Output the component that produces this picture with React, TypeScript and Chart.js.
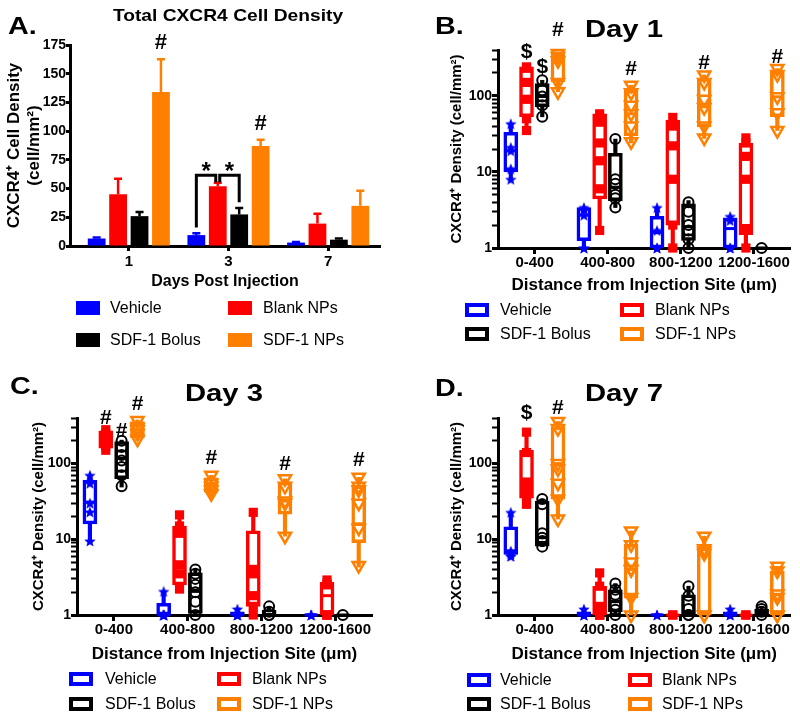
import React, { useEffect, useRef } from 'react';
import { Chart, registerables } from 'chart.js';

Chart.register(...registerables);

const FONT = "'Liberation Sans', Arial, Helvetica, sans-serif";
Chart.defaults.font.family = FONT;
Chart.defaults.color = '#000';

const GROUPS = ['Vehicle', 'Blank NPs', 'SDF-1 Bolus', 'SDF-1 NPs'];
const COLORS = ['#0000ff', '#ff0000', '#000000', '#ff8000'];

// ---------- Panel A : total density (mean, SEM) ----------
const DAYS = ['1', '3', '7'];
const A_VEHICLE = [6.5, 9.5, 3.0];
const A_VEHICLE_SEM = [1.0, 1.5, 0.4];
const A_BLANK = [45, 52, 19.5];
const A_BLANK_SEM = [13.5, 3.0, 8.5];
const A_BOLUS = [26, 27.5, 5.5];
const A_BOLUS_SEM = [3.5, 5.5, 1.0];
const A_SDF = [134, 87, 35];
const A_SDF_SEM = [28.5, 5.5, 13];
const A_TICKS = [0, 25, 50, 75, 100, 125, 150, 175];
const A_MARKS = [
  { s: '#', g: 3, c: 0, y: 177 },
  { s: '#', g: 3, c: 1, y: 106 },
];
// brackets: [groupA, groupB, category, top value, left foot value, right foot value]
const A_BRACKETS = [
  [0, 1, 1, 61.7, 16, 55.4],
  [1, 2, 1, 61.7, 55.4, 38],
];
const A_STAR_Y = 64;

// ---------- Panels B-D : distance boxes ----------
const DIST = ['0-400', '400-800', '800-1200', '1200-1600'];
const LOG_MAJOR = [1, 10, 100];
const LOG_TICKS = [1, 2, 3, 4, 5, 6, 7, 8, 9, 10, 20, 30, 40, 50, 60, 70, 80, 90, 100, 200, 300, 400];

// box stats: [min, q1, median, q3, max] per distance
const D1_VEHICLE_BOX = [[8, 10, 19, 33, 43], [1, 1.25, 2.7, 3.4, 3.4], [1, 1, 1.6, 2.6, 3.4], [1, 1, 1.8, 2.5, 2.6]];
const D1_BLANK_BOX = [[35, 53, 88, 240, 245], [1.7, 4.4, 15, 58, 58], [1, 2, 8.6, 48, 52], [1, 1.5, 8, 24, 28]];
const D1_BOLUS_BOX = [[53, 72, 98, 145, 160], [3.4, 4.2, 6.3, 17.5, 27], [1, 1.26, 1.9, 3.8, 4.2], [1, 1, 1, 1, 1]];
const D1_SDF_BOX = [[113, 153, 280, 360, 360], [24, 30, 58, 118, 138], [27.5, 39, 72, 168, 188], [35, 53, 97, 207, 228]];
const D1_VEHICLE_PTS = [[43, 21, 19, 11, 8], [3.4, 3.2, 2.7, 1, 1], [3.4, 1.7, 1, 1], [2.6, 2.3, 1, 1]];
const D1_BLANK_PTS = [[240, 230, 150, 90, 50, 35], [58, 45, 24, 14, 6, 1.7], [52, 40, 22, 8, 2, 1], [28, 24, 16, 8, 1.8, 1]];
const D1_BOLUS_PTS = [[160, 118, 98, 75, 53], [27, 8, 7, 5, 4.5, 3.4], [4, 3, 2, 1.7, 1.3, 1], [1]];
const D1_SDF_PTS = [[360, 330, 290, 150, 113], [138, 110, 75, 58, 40, 25], [188, 150, 90, 70, 40, 28], [228, 190, 97, 60, 35]];
const D1_MARKS = [
  { s: '$', g: 1, c: 0, y: 376 },
  { s: '$', g: 2, c: 0, y: 239 },
  { s: '#', g: 3, c: 0, y: 730 },
  { s: '#', g: 3, c: 1, y: 224 },
  { s: '#', g: 3, c: 2, y: 269 },
  { s: '#', g: 3, c: 3, y: 324 },
];

const D3_VEHICLE_BOX = [[9.5, 16, 31, 60, 70], [1, 1, 1, 1.43, 2.05], [1, 1, 1, 1.1, 1.2], [1, 1, 1, 1, 1]];
const D3_BLANK_BOX = [[145, 160, 210, 270, 280], [2.1, 2.5, 4.8, 15, 21], [1, 1.3, 3.4, 12.9, 22.7], [1, 1, 1.8, 2.7, 2.9]];
const D3_BOLUS_BOX = [[49, 63, 117, 195, 204], [1, 1.05, 2.05, 3.6, 4], [1, 1, 1, 1.15, 1.3], [1, 1, 1, 1, 1]];
const D3_SDF_BOX = [[205, 220, 280, 360, 377], [40, 42, 52, 65, 70], [11, 21.5, 32, 57, 63], [4.3, 9, 16, 51, 66]];
const D3_VEHICLE_PTS = [[70, 55, 30, 23, 9.5], [2.05, 1, 1, 1, 1], [1.2, 1, 1, 1], [1, 1, 1]];
const D3_BLANK_PTS = [[280, 250, 230, 200, 170, 150], [21, 15, 12, 4.6, 3.5, 2.2], [22.7, 4, 3.5, 1.8, 1.3, 1], [2.9, 2.6, 2.5, 1, 1, 1]];
const D3_BOLUS_PTS = [[200, 165, 130, 110, 90, 70, 50], [4, 3.5, 3, 2.5, 2, 1.5, 1], [1.3, 1.1, 1, 1], [1]];
const D3_SDF_PTS = [[370, 300, 280, 250, 210], [70, 55, 50, 45, 40], [63, 50, 32, 30, 11], [66, 50, 45, 30, 14, 4.5]];
const D3_MARKS = [
  { s: '#', g: 1, c: 0, y: 398 },
  { s: '#', g: 2, c: 0, y: 267 },
  { s: '#', g: 3, c: 0, y: 612 },
  { s: '#', g: 3, c: 1, y: 117 },
  { s: '#', g: 3, c: 2, y: 97 },
  { s: '#', g: 3, c: 3, y: 110 },
];

const D7_VEHICLE_BOX = [[6, 6.3, 7, 14.6, 22.7], [1, 1, 1, 1.1, 1.2], [1, 1, 1, 1, 1], [1, 1, 1, 1.1, 1.2]];
const D7_BLANK_BOX = [[29, 35, 55, 150, 260], [1, 1, 1.2, 2.4, 3.6], [1, 1, 1, 1, 1], [1, 1, 1, 1, 1]];
const D7_BOLUS_BOX = [[8, 8.1, 10.5, 32, 34], [1, 1.1, 1.5, 2.15, 2.6], [1, 1, 1.1, 1.85, 2.4], [1, 1, 1.1, 1.2, 1.3]];
const D7_SDF_BOX = [[18.5, 34, 100, 309, 360], [1, 1.67, 4, 8.6, 12.9], [1, 1, 6.3, 7.7, 11], [1, 1, 1.85, 3.8, 4.4]];
const D7_VEHICLE_PTS = [[22.7, 7, 6.5, 6, 6], [1.2, 1, 1, 1], [1, 1], [1.2, 1, 1]];
const D7_BLANK_PTS = [[260, 140, 57, 45, 35, 29], [3.6, 2.4, 1.3, 1, 1, 1], [1, 1], [1, 1]];
const D7_BOLUS_PTS = [[34, 29, 12, 10.5, 9.5, 8], [2.6, 2.15, 1.85, 1.36, 1.17, 1], [2.4, 1.8, 1.2, 1, 1], [1.3, 1.2, 1.1, 1]];
const D7_SDF_PTS = [[360, 290, 100, 85, 55, 34, 18.5], [12.9, 8.5, 5, 4, 4, 1.7, 1], [11, 7.5, 7, 6.5, 1, 1], [4.4, 3.8, 1.9, 1.7, 1, 1]];
const D7_MARKS = [
  { s: '$', g: 1, c: 0, y: 464 },
  { s: '#', g: 3, c: 0, y: 541 },
];

// group offset inside a distance category (axis units)
const OFFSETS = [-0.325, -0.11, 0.105, 0.32];

function makeStar(color: string, size: number) {
  const c = document.createElement('canvas');
  c.width = size;
  c.height = size;
  const g = c.getContext('2d')!;
  const cx = size / 2;
  const cy = size / 2 + size * 0.05;
  const R = size / 2;
  const r = R * 0.45;
  g.beginPath();
  for (let i = 0; i < 10; i++) {
    const ang = -Math.PI / 2 + (i * Math.PI) / 5;
    const rad = i % 2 === 0 ? R : r;
    g.lineTo(cx + rad * Math.cos(ang), cy + rad * Math.sin(ang));
  }
  g.closePath();
  g.fillStyle = color;
  g.fill();
  return c;
}

function PanelA() {
  const ref = useRef<HTMLCanvasElement>(null);
  useEffect(() => {
    const means = [A_VEHICLE, A_BLANK, A_BOLUS, A_SDF];
    const sems = [A_VEHICLE_SEM, A_BLANK_SEM, A_BOLUS_SEM, A_SDF_SEM];
    const datasets: any[] = means.map((vals, g) => ({
      type: 'bar',
      label: GROUPS[g],
      data: vals.map((v, i) => ({ x: i, y: v })),
      backgroundColor: COLORS[g],
      borderWidth: 0,
      categoryPercentage: 0.86,
      barPercentage: 0.83,
    }));
    const annot = {
      id: 'annotA',
      afterDatasetsDraw(chart: any) {
        const { ctx } = chart;
        const y = chart.scales.y;
        ctx.save();
        // error bars
        means.forEach((vals, g) => {
          const meta = chart.getDatasetMeta(g);
          vals.forEach((v, i) => {
            const bar = meta.data[i];
            const top = y.getPixelForValue(v + sems[g][i]);
            const base = y.getPixelForValue(v);
            ctx.strokeStyle = COLORS[g];
            ctx.lineWidth = 2.5;
            ctx.beginPath();
            ctx.moveTo(bar.x, base);
            ctx.lineTo(bar.x, top);
            ctx.moveTo(bar.x - 4, top);
            ctx.lineTo(bar.x + 4, top);
            ctx.stroke();
          });
        });
        // brackets
        ctx.strokeStyle = '#000';
        ctx.lineWidth = 3;
        const gap = 2;
        A_BRACKETS.forEach(([ga, gb, c, t, l, r], k) => {
          const xa = chart.getDatasetMeta(ga).data[c].x + (k === 0 ? 0 : gap);
          const xb = chart.getDatasetMeta(gb).data[c].x - (k === 0 ? gap : 0);
          ctx.beginPath();
          ctx.moveTo(xa, y.getPixelForValue(l));
          ctx.lineTo(xa, y.getPixelForValue(t));
          ctx.lineTo(xb, y.getPixelForValue(t));
          ctx.lineTo(xb, y.getPixelForValue(r));
          ctx.stroke();
          ctx.fillStyle = '#000';
          ctx.font = `bold 24px ${FONT}`;
          ctx.textAlign = 'center';
          ctx.textBaseline = 'middle';
          ctx.fillText('*', (xa + xb) / 2, y.getPixelForValue(A_STAR_Y));
        });
        ctx.fillStyle = '#000';
        ctx.font = `bold 22px ${FONT}`;
        ctx.textAlign = 'center';
        ctx.textBaseline = 'middle';
        A_MARKS.forEach((m) => {
          const bar = chart.getDatasetMeta(m.g).data[m.c];
          ctx.fillText(m.s, bar.x, y.getPixelForValue(m.y));
        });
        ctx.restore();
      },
    };
    const chart = new Chart(ref.current!, {
      type: 'bar',
      data: { datasets },
      options: {
        responsive: false,
        animation: false,
        layout: { padding: { left: 4, right: 20, top: 45, bottom: 9 } },
        plugins: { legend: { display: false }, tooltip: { enabled: false }, title: { display: false } },
        scales: {
          x: {
            type: 'linear',
            min: -0.59,
            max: 2.52,
            offset: false,
            afterBuildTicks: (s: any) => {
              s.ticks = DAYS.map((_, i) => ({ value: i }));
            },
            afterFit: (s: any) => {
              s.height = 45;
            },
            grid: { offset: false, drawOnChartArea: false, drawTicks: true, tickLength: 5, tickWidth: 3, tickColor: '#000', color: '#000' },
            border: { display: true, color: '#000', width: 3 },
            ticks: {
              autoSkip: false,
              maxRotation: 0,
              padding: 2,
              color: '#000',
              font: { size: 15, weight: 'bold' },
              callback: (v: any) => (DAYS[v] !== undefined ? DAYS[v] : ''),
            },
            title: { display: true, text: 'Days Post Injection', color: '#000', font: { size: 16, weight: 'bold' }, padding: 0 },
          },
          y: {
            type: 'linear',
            min: 0,
            max: 175,
            afterBuildTicks: (s: any) => {
              s.ticks = A_TICKS.map((v) => ({ value: v }));
            },
            afterFit: (s: any) => {
              s.width = 66;
            },
            grid: { drawOnChartArea: false, tickLength: 4, tickWidth: 3, tickColor: '#000', color: '#000' },
            border: { display: true, color: '#000', width: 3 },
            ticks: { padding: 0, color: '#000', font: { size: 14, weight: 'bold' } },
            title: {
              display: true,
              text: ['CXCR4⁺ Cell Density', '(cell/mm²)'],
              color: '#000',
              font: { size: 17, weight: 'bold' },
              padding: 0,
            },
          },
        },
      } as any,
      plugins: [annot],
    });
    return () => chart.destroy();
  }, []);
  return <canvas ref={ref} width={400} height={300} style={{ position: 'absolute', left: 0, top: 0, width: 400, height: 300 }} />;
}

type BoxProps = {
  left: number;
  top: number;
  height: number;
  padding: { left: number; right: number; top: number; bottom: number };
  yWidth: number;
  xHeight: number;
  boxes: number[][][];
  pts: number[][][];
  marks: { s: string; g: number; c: number; y: number }[];
};

function BoxPanel({ left, top, height, padding, yWidth, xHeight, boxes, pts, marks }: BoxProps) {
  const ref = useRef<HTMLCanvasElement>(null);
  useEffect(() => {
    const star = makeStar(COLORS[0], 12);
    const styles: any[] = [
      { pointStyle: star, radius: 6, backgroundColor: COLORS[0], borderWidth: 0 },
      { pointStyle: 'rect', radius: 6.5, backgroundColor: COLORS[1], borderWidth: 0 },
      { pointStyle: 'circle', radius: 5, backgroundColor: 'rgba(0,0,0,0)', borderColor: COLORS[2], borderWidth: 2 },
      { pointStyle: 'triangle', rotation: 180, radius: 7, backgroundColor: 'rgba(0,0,0,0)', borderColor: COLORS[3], borderWidth: 2.5 },
    ];
    const datasets: any[] = [];
    for (let g = 0; g < 4; g++) {
      datasets.push({
        type: 'scatter',
        label: GROUPS[g] + ' points',
        data: pts[g].flatMap((arr, c) => arr.map((v) => ({ x: c + OFFSETS[g], y: v }))),
        showLine: false,
        clip: false,
        order: 0,
        pointHoverRadius: styles[g].radius,
        ...styles[g],
      });
      datasets.push({
        type: 'scatter',
        label: GROUPS[g] + ' median',
        data: boxes[g].map((b, c) => ({ x: c + OFFSETS[g], y: b[2] })),
        showLine: false,
        clip: false,
        order: 1,
        pointStyle: 'line',
        radius: 6.5,
        borderWidth: 3,
        borderColor: COLORS[g],
      });
      datasets.push({
        type: 'bar',
        label: GROUPS[g] + ' box',
        data: boxes[g].map((b, c) => ({ x: c + OFFSETS[g], y: [b[1], b[3]] })),
        grouped: false,
        barThickness: 14,
        backgroundColor: '#ffffff',
        borderColor: COLORS[g],
        borderWidth: 3.5,
        borderSkipped: false,
        clip: false,
        order: 2,
      });
      datasets.push({
        type: 'bar',
        label: GROUPS[g] + ' whisker',
        data: boxes[g].map((b, c) => ({ x: c + OFFSETS[g], y: [b[0], b[4]] })),
        grouped: false,
        barThickness: 3.5,
        backgroundColor: COLORS[g],
        borderWidth: 0,
        clip: false,
        order: 3,
      });
    }
    const marksPlugin = {
      id: 'marks',
      afterDatasetsDraw(chart: any) {
        const { ctx } = chart;
        const x = chart.scales.x;
        const y = chart.scales.y;
        ctx.save();
        ctx.fillStyle = '#000';
        ctx.font = `bold 21px ${FONT}`;
        ctx.textAlign = 'center';
        ctx.textBaseline = 'middle';
        marks.forEach((m) => {
          ctx.fillText(m.s, x.getPixelForValue(m.c + OFFSETS[m.g]), y.getPixelForValue(m.y));
        });
        ctx.restore();
      },
    };
    const chart = new Chart(ref.current!, {
      type: 'bar',
      data: { datasets },
      options: {
        responsive: false,
        animation: false,
        layout: { padding },
        plugins: { legend: { display: false }, tooltip: { enabled: false }, title: { display: false } },
        scales: {
          x: {
            type: 'linear',
            min: -0.5,
            max: 3.5,
            offset: false,
            afterBuildTicks: (s: any) => {
              s.ticks = DIST.map((_, i) => ({ value: i }));
            },
            afterFit: (s: any) => {
              s.height = xHeight;
            },
            grid: { offset: false, drawOnChartArea: false, drawTicks: true, tickLength: 6, tickWidth: 3, tickColor: '#000', color: '#000' },
            border: { display: true, color: '#000', width: 3 },
            ticks: {
              autoSkip: false,
              maxRotation: 0,
              padding: 0,
              color: '#000',
              font: { size: 15, weight: 'bold' },
              callback: (v: any) => (DIST[v] !== undefined ? DIST[v] : ''),
            },
            title: {
              display: true,
              text: 'Distance from Injection Site (μm)',
              color: '#000',
              font: { size: 17, weight: 'bold' },
              padding: 0,
            },
          },
          y: {
            type: 'logarithmic',
            min: 1,
            max: 400,
            afterBuildTicks: (s: any) => {
              s.ticks = LOG_TICKS.map((v) => ({ value: v }));
            },
            afterFit: (s: any) => {
              s.width = yWidth;
            },
            grid: {
              drawOnChartArea: false,
              tickLength: 6,
              tickWidth: (c: any) => (c.tick && LOG_MAJOR.includes(c.tick.value) ? 3 : 2),
              tickColor: '#000',
              color: '#000',
            },
            border: { display: true, color: '#000', width: 3 },
            ticks: {
              padding: 0,
              color: '#000',
              autoSkip: false,
              font: { size: 14, weight: 'bold' },
              callback: (v: any) => (LOG_MAJOR.includes(v) ? String(v) : ''),
            },
            title: {
              display: true,
              text: 'CXCR4⁺ Density (cell/mm²)',
              color: '#000',
              font: { size: 15, weight: 'bold' },
              padding: 0,
            },
          },
        },
      } as any,
      plugins: [marksPlugin],
    });
    return () => chart.destroy();
  }, []);
  return <canvas ref={ref} width={400} height={height} style={{ position: 'absolute', left, top, width: 400, height }} />;
}

type LegendProps = { x1: number; x2: number; t1: number; t2: number; y1: number; y2: number; filled: boolean };

function Legend({ x1, x2, t1, t2, y1, y2, filled }: LegendProps) {
  const pos = [
    [x1, t1, y1],
    [x2, t2, y1],
    [x1, t1, y2],
    [x2, t2, y2],
  ];
  return (
    <>
      {GROUPS.map((name, g) => {
        const [sx, tx, cy] = pos[g];
        return (
          <React.Fragment key={name}>
            <div
              style={{
                position: 'absolute',
                left: sx,
                top: cy - 7,
                width: 24,
                height: 14,
                boxSizing: 'border-box',
                background: filled ? COLORS[g] : '#fff',
                border: filled ? 'none' : `4px solid ${COLORS[g]}`,
              }}
            />
            <div
              style={{
                position: 'absolute',
                left: tx,
                top: cy - 8,
                fontFamily: FONT,
                fontSize: 16,
                lineHeight: '16px',
                whiteSpace: 'nowrap',
                color: '#000',
              }}
            >
              {name}
            </div>
          </React.Fragment>
        );
      })}
    </>
  );
}

function Text({ text, cx, left, top, size, scale }: { text: string; cx?: number; left?: number; top: number; size: number; scale: number }) {
  const centered = cx !== undefined;
  return (
    <div
      style={{
        position: 'absolute',
        left: centered ? (cx as number) - 200 : left,
        width: centered ? 400 : undefined,
        top,
        textAlign: centered ? 'center' : 'left',
        fontFamily: FONT,
        fontWeight: 'bold',
        fontSize: size,
        lineHeight: `${size}px`,
        whiteSpace: 'nowrap',
        color: '#000',
        transform: `scaleX(${scale})`,
        transformOrigin: centered ? 'center' : 'left',
      }}
    >
      {text}
    </div>
  );
}

export default function App() {
  return (
    <div style={{ position: 'absolute', left: 0, top: 0, width: 800, height: 720, background: '#fff', overflow: 'hidden' }}>
      <PanelA />
      <BoxPanel
        left={400}
        top={0}
        height={300}
        padding={{ left: 48, right: 8, top: 50, bottom: 4 }}
        yWidth={50}
        xHeight={48}
        boxes={[D1_VEHICLE_BOX, D1_BLANK_BOX, D1_BOLUS_BOX, D1_SDF_BOX]}
        pts={[D1_VEHICLE_PTS, D1_BLANK_PTS, D1_BOLUS_PTS, D1_SDF_PTS]}
        marks={D1_MARKS}
      />
      <BoxPanel
        left={0}
        top={360}
        height={315}
        padding={{ left: 30, right: 28, top: 58, bottom: 10.8 }}
        yWidth={47}
        xHeight={49.2}
        boxes={[D3_VEHICLE_BOX, D3_BLANK_BOX, D3_BOLUS_BOX, D3_SDF_BOX]}
        pts={[D3_VEHICLE_PTS, D3_BLANK_PTS, D3_BOLUS_PTS, D3_SDF_PTS]}
        marks={D3_MARKS}
      />
      <BoxPanel
        left={400}
        top={360}
        height={315}
        padding={{ left: 48, right: 8, top: 58, bottom: 10.8 }}
        yWidth={50}
        xHeight={49.2}
        boxes={[D7_VEHICLE_BOX, D7_BLANK_BOX, D7_BOLUS_BOX, D7_SDF_BOX]}
        pts={[D7_VEHICLE_PTS, D7_BLANK_PTS, D7_BOLUS_PTS, D7_SDF_PTS]}
        marks={D7_MARKS}
      />
      <Text text="A." left={8} top={15} size={23} scale={1.25} />
      <Text text="B." left={435} top={15} size={23} scale={1.25} />
      <Text text="C." left={10} top={375} size={23} scale={1.25} />
      <Text text="D." left={435} top={377} size={23} scale={1.25} />
      <Text text="Total CXCR4 Cell Density" cx={228} top={6.5} size={17} scale={1.13} />
      <Text text="Day 1" cx={624} top={16.5} size={24} scale={1.22} />
      <Text text="Day 3" cx={224} top={380.7} size={24} scale={1.22} />
      <Text text="Day 7" cx={624} top={380.7} size={24} scale={1.22} />
      <Legend x1={76} x2={228} t1={110} t2={263} y1={308} y2={340} filled={true} />
      <Legend x1={465} x2={620} t1={500} t2={655} y1={310} y2={334} filled={false} />
      <Legend x1={69} x2={217} t1={105} t2={252} y1={679} y2={704} filled={false} />
      <Legend x1={467} x2={628} t1={500} t2={662} y1={680} y2={704} filled={false} />
    </div>
  );
}
